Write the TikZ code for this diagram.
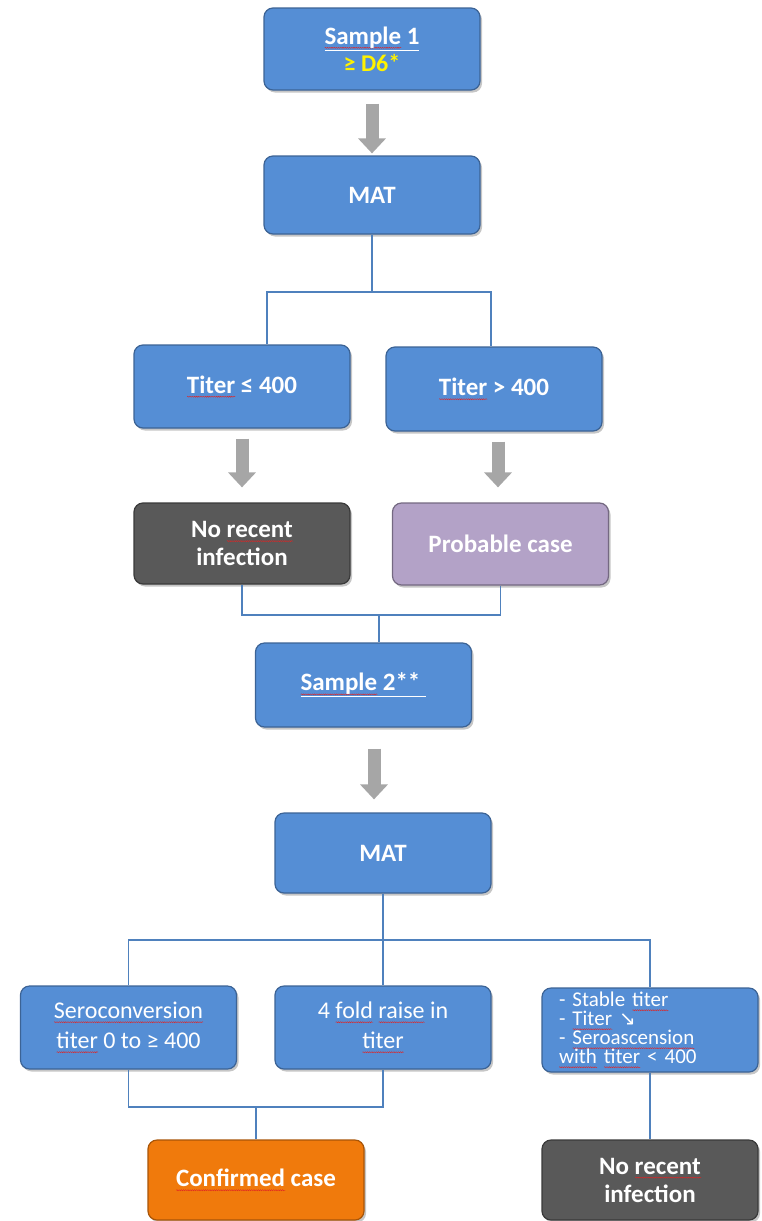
\documentclass[tikz,border=0pt]{standalone}
\usepackage{fontspec}
\setmainfont{Carlito}
\newfontfamily\djv{DejaVu Sans}
\usetikzlibrary{arrows.meta,shadows,decorations.pathmorphing,calc}

\definecolor{boxblue}{RGB}{85,142,213}
\definecolor{darkbox}{RGB}{89,89,89}
\definecolor{lavbox}{RGB}{179,162,199}
\definecolor{orbox}{RGB}{240,122,12}
\definecolor{connblue}{RGB}{79,129,189}
\definecolor{arrgray}{RGB}{166,166,166}
\definecolor{squigred}{RGB}{225,35,35}

\newsavebox\sqbox
\newlength\sqlen
\newcommand\sq[1]{\sbox\sqbox{#1}\setlength\sqlen{\wd\sqbox}\leavevmode\rlap{\tikz[baseline=0pt]\draw[squigred,line width=0.4pt,sharp corners,decorate,decoration={snake,amplitude=0.55pt,segment length=2.2pt}] (0pt,-3.6pt) -- (\sqlen,-3.6pt);}\usebox\sqbox}

\tikzset{
  flowbox/.style={rectangle, rounded corners=9pt, minimum width=216pt, minimum height=82pt,
    line width=1.2pt, text=white, align=center, inner sep=2pt,
    drop shadow={shadow xshift=2pt, shadow yshift=-2.5pt, opacity=0.45}},
  bluebox/.style={flowbox, fill=boxblue, draw=boxblue!70!black},
  greybox/.style={flowbox, fill=darkbox, draw=darkbox!65!black},
  lavbox/.style={flowbox, fill=lavbox, draw=lavbox!65!black},
  orangebox/.style={flowbox, fill=orbox, draw=orbox!70!black},
  boldtext/.style={font=\fontsize{25}{28}\selectfont\bfseries},
  regtext/.style={font=\fontsize{24}{30}\selectfont},
  smalltext/.style={font=\fontsize{21}{19}\selectfont},
  conn/.style={draw=connblue, line width=1.2pt},
  garrow/.style={draw=arrgray, line width=13pt, -{Triangle[width=27pt,length=15pt]}}
}

\begin{document}
\begin{tikzpicture}[x=1pt,y=-1pt]
\useasboundingbox (0,0) rectangle (762,1221);

\node[bluebox,boldtext,minimum height=82pt] (s1) at (372,49) {\underline{\sq{Sample} 1}\\[-1pt]{\fontsize{24}{26}\selectfont\color{yellow}≥ D6*}};
\node[bluebox,boldtext,minimum height=78pt] (mat1) at (372,195) {MAT};
\node[bluebox,boldtext,minimum height=83pt] (t1) at (242,386.5) {\sq{Titer} ≤ 400};
\node[bluebox,boldtext,minimum height=84pt] (t2) at (494,389) {\sq{Titer} > 400};
\node[greybox,boldtext,minimum height=81pt] (nr1) at (242,543.5) {No \sq{recent}\\infection};
\node[lavbox,boldtext,minimum height=82pt] (pc) at (500.5,544) {Probable case};
\node[bluebox,boldtext,minimum height=84pt] (s2) at (363.5,685) {\underline{\sq{Sample} 2**\hspace{6pt}}};
\node[bluebox,boldtext,minimum height=80pt] (mat2) at (383,853) {MAT};
\node[bluebox,regtext,minimum height=83pt] (sc) at (128.5,1027.5) {\sq{Seroconversion}\\\sq{titer} 0 to ≥ 400};
\node[bluebox,regtext,minimum height=83pt] (ff) at (383,1027.5) {4 \sq{fold} \sq{raise} in\\\sq{titer}};
\node[bluebox,smalltext,minimum height=84pt,text width=182pt,align=left] (st) at (650,1030) {- Stable \sq{titer}\\- \sq{Titer} {\djv\fontsize{20}{19}\selectfont ↘}\\- \sq{Seroascension}\\\sq{with} \sq{titer} < 400};
\node[orangebox,boldtext,minimum height=80pt] (cc) at (256,1180) {\sq{Confirmed} case};
\node[greybox,boldtext,minimum height=80pt] (nr2) at (650,1180) {No \sq{recent}\\infection};

% gray arrows
\draw[garrow,shorten <=13pt,shorten >=2pt] (s1) -- (mat1);
\draw[garrow,shorten <=10pt,shorten >=15pt] (t1) -- (nr1);
\draw[garrow,shorten <=10pt,shorten >=15pt] ([xshift=4pt]t2.south) -- ([xshift=-2.5pt]pc.north);
\draw[garrow,shorten <=21pt,shorten >=13pt] ([xshift=10.5pt]s2.south) -- ([xshift=-9pt]mat2.north);

% connectors
\coordinate (j1) at (372,292);
\draw[conn] (mat1.south) -- (j1);
\draw[conn] (j1) -| ([xshift=25pt]t1.north);
\draw[conn] (j1) -| ([xshift=-3pt]t2.north);

\coordinate (j2) at (379,615);
\draw[conn] (nr1.south) |- (j2);
\draw[conn] (pc.south) |- (j2);
\draw[conn] (j2) -- (j2 |- s2.north);

\coordinate (j3) at (383,940);
\draw[conn] (mat2.south) -- (j3);
\draw[conn] (j3) -| (sc.north);
\draw[conn] (j3) -| (st.north);
\draw[conn] (j3) -- (ff.north);

\coordinate (j4) at (256,1107);
\draw[conn] (sc.south) |- (j4);
\draw[conn] (ff.south) |- (j4);
\draw[conn] (j4) -- (cc.north);

\draw[conn] (st.south) -- (nr2.north);
\end{tikzpicture}
\end{document}
